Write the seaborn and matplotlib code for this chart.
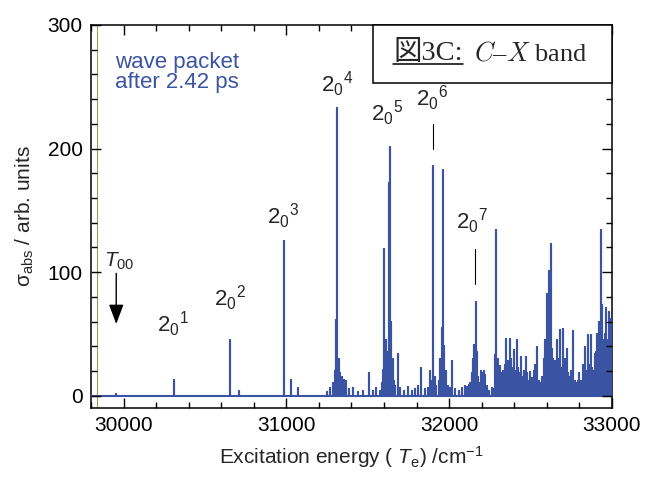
import pandas as pd
import matplotlib.pyplot as plt
import seaborn as sns
from matplotlib.lines import Line2D
from matplotlib.patches import Rectangle

# band heads and other distinct lines (cm-1, arb. units)
peak_x = [29955, 30310, 30652, 30709, 30986, 31031, 31072,
          31250, 31270, 31285, 31300, 31306, 31314, 31322, 31330, 31340, 31353, 31367, 31385, 31410,
          31440, 31470, 31506, 31530, 31553, 31575,
          31585, 31592, 31598, 31606, 31614, 31620, 31628, 31637, 31645, 31652, 31660, 31670, 31683, 31700,
          31720, 31746, 31770, 31790, 31810, 31828, 31850, 31870,
          31885, 31892, 31900, 31910, 31920, 31935, 31945, 31955, 31963, 31970, 31978, 31990, 32005, 32019, 32035,
          32060, 32080, 32095, 32110, 32120, 32130, 32140, 32148, 32155, 32162, 32168, 32175, 32185,
          32195, 32203, 32212, 32219, 32230, 32245, 32260,
          32281, 32289, 32299, 32314, 32346, 32371, 32398, 32418, 32443, 32474, 32496, 32541, 32568,
          32590, 32603, 32611, 32625, 32633, 32660, 32678, 32699, 32726, 32763, 32797, 32832, 32855,
          32873, 32894, 32910, 32930, 32936, 32961, 32982, 32992]
peak_h = [1, 13, 45, 4, 125, 13, 6,
          3, 6, 10, 20, 61, 233, 30, 18, 15, 13, 12, 5, 6,
          3, 4, 18, 4, 6, 4,
          10, 21, 119, 30, 45, 35, 172, 201, 60, 30, 12, 8, 34, 6,
          4, 7, 4, 5, 8, 22, 5, 6,
          20, 12, 186, 15, 8, 12, 30, 55, 183, 40, 20, 8, 6, 28, 5,
          4, 6, 8, 7, 9, 10, 18, 30, 41, 76, 35, 15, 10,
          20, 18, 20, 17, 8, 4, 6,
          33, 134, 30, 24, 46, 46, 37, 45, 31, 31, 19, 39, 15,
          30, 82, 101, 123, 38, 45, 53, 54, 38, 52, 18, 39, 49,
          49, 34, 36, 134, 73, 71, 68, 62]

# dense congestion of lines above 32270 cm-1
forest_x = list(range(32270, 33001, 10))
forest_h = [5, 25, 30, 28, 22, 18, 20, 25, 30, 28, 25, 30, 22, 25, 20, 22, 18, 25, 15, 20,
            22, 18, 12, 10, 14, 20, 25, 22, 12, 10, 14, 30, 45, 55, 60, 48, 35, 30, 28, 25,
            30, 28, 22, 25, 30, 20, 18, 15, 20, 14, 12, 10, 12, 15, 12, 25, 22, 20, 28, 25,
            30, 22, 20, 35, 50, 60, 55, 50, 45, 50, 45, 40, 42, 35]

band_quanta = ['1', '2', '3', '4', '5', '6', '7']

blue = '#3b53a3'

# stick spectrum: each line drawn from the baseline up and back
sticks = sorted(zip(peak_x + forest_x, peak_h + forest_h))
xs, ys = [29800], [0]
for x, h in sticks:
    xs += [x, x, x]
    ys += [0, h, 0]
xs.append(33000)
ys.append(0)
df = pd.DataFrame({'energy': xs, 'sigma': ys})

sns.set_style('ticks', {'xtick.direction': 'in', 'ytick.direction': 'in',
                        'xtick.top': True, 'ytick.right': True,
                        'xtick.color': 'k', 'ytick.color': 'k', 'axes.edgecolor': 'k'})
plt.rcParams['font.family'] = ['Liberation Sans', 'DejaVu Sans']
plt.rcParams['mathtext.fontset'] = 'custom'
plt.rcParams['mathtext.rm'] = 'Liberation Sans'
plt.rcParams['mathtext.it'] = 'Liberation Sans:italic'
plt.rcParams['axes.axisbelow'] = False

fig = plt.figure(figsize=(6.45, 4.78), dpi=100)
ax = fig.add_axes([0.1411, 0.1464, 0.8077, 0.8013])

ax.axvline(29838, color='#9c9a5a', lw=0.8, zorder=1)
sns.lineplot(data=df, x='energy', y='sigma', sort=False, estimator=None,
             color=blue, linewidth=1.5, ax=ax, zorder=3)

ax.set_xlim(29800, 33000)
ax.set_ylim(-10, 300)
ax.set_xticks([30000, 31000, 32000, 33000])
ax.set_xticks(list(range(29800, 33001, 200)), minor=True)
ax.set_yticks([0, 100, 200, 300])
ax.set_yticks(list(range(0, 301, 20)), minor=True)
for s in ax.spines.values():
    s.set_linewidth(1.1)
ax.xaxis.set_zorder(4)
ax.yaxis.set_zorder(4)

ax.set_xlabel('Excitation energy ( $T_{\\rm e}$) /cm$^{-1}$', fontsize=15, labelpad=6)
ax.set_ylabel('σ$_{\\rm abs}$ / arb. units', fontsize=15, labelpad=8)

ax.text(0.046, 0.93, 'wave packet\nafter 2.42 ps', transform=ax.transAxes,
        color=blue, fontsize=16, va='top', ha='left', linespacing=0.95)

# band assignments
label_pos = [(30305, 46), (30656, 67), (30980, 133), (31313, 240),
             (31620, 217), (31897, 229), (32141, 129)]
for (x, y), q in zip(label_pos, band_quanta):
    ax.text(x, y, '$2_0$$^{%s}$' % q, fontsize=16, ha='center', va='bottom')
ax.plot([31901, 31901], [200, 220], color='k', lw=0.8)
ax.plot([32161, 32161], [90, 119], color='k', lw=0.8)

ax.text(29975, 100, '$T_{00}$', fontsize=15, ha='center', va='bottom')
ax.annotate('', xy=(29955, 58), xytext=(29955, 99),
            arrowprops=dict(arrowstyle='-|>,head_length=0.8,head_width=0.3',
                            mutation_scale=15, color='k', lw=1, shrinkA=0, shrinkB=0))

# title box
ax.add_patch(Rectangle((0.541, 0.849), 0.459, 0.151, transform=ax.transAxes,
                       facecolor='white', edgecolor='black', lw=1.1, zorder=5, clip_on=False))
t1 = ax.text(0.5797, 0.9086, '図3C:', transform=ax.transAxes, ha='left', va='baseline',
             fontsize=20.5, family=['Liberation Serif', 'Noto Sans CJK JP'], zorder=6)
ax.text(0.952, 0.9086, '$C$–$X$ band', transform=ax.transAxes, ha='right', va='baseline',
        fontsize=19, family=['Liberation Serif', 'DejaVu Serif'], math_fontfamily='cm', zorder=6)

ax.tick_params(which='both', direction='in', top=True, right=True, width=1, labelsize=15, pad=6)
ax.tick_params(which='major', length=7)
ax.tick_params(which='minor', length=4)

# underline the figure number
fig.canvas.draw()
bb = t1.get_window_extent().transformed(ax.transAxes.inverted())
ax.add_line(Line2D([bb.x0, bb.x1], [0.898, 0.898], transform=ax.transAxes,
                   color='k', lw=1.1, zorder=6))

fig.savefig('out.png', dpi=100)
